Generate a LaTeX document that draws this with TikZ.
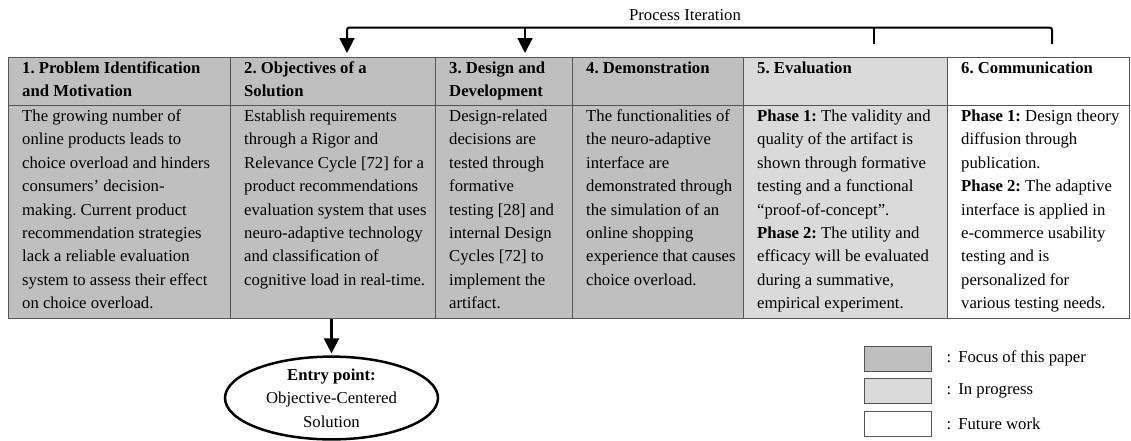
\documentclass[tikz,border=0pt]{standalone}
\usepackage{fontspec}
\setmainfont{Liberation Serif}
\usetikzlibrary{arrows.meta,shapes.geometric}
\frenchspacing

\definecolor{focusgray}{RGB}{191,191,191}
\definecolor{progressgray}{RGB}{218,218,218}
\definecolor{gridline}{RGB}{85,85,85}

\begin{document}
\begin{tikzpicture}[x=1pt,y=-1pt,
  every node/.style={font=\fontsize{16.7}{23.4}\selectfont},
  cell/.style={draw=gridline, line width=1pt, anchor=north west, inner sep=0pt},
  headrow/.style={cell, minimum height=48pt},
  bodyrow/.style={cell, minimum height=213pt},
  celltext/.style={anchor=north west, inner sep=0pt, align=left},
  iter/.style={line width=2pt, black},
  tip/.style={-{Triangle[width=15pt,length=15pt]}},
  legendbox/.style={draw=gridline, line width=1pt, minimum width=67pt, minimum height=25pt, inner sep=0pt},
  legendtext/.style={anchor=west, inner sep=0pt},
]
\useasboundingbox (0,0) rectangle (1131,440);

% ---- table: header row ----
\node[headrow, fill=focusgray,    minimum width=222pt] (h1) at (8,57)   {};
\node[headrow, fill=focusgray,    minimum width=205pt] (h2) at (230,57) {};
\node[headrow, fill=focusgray,    minimum width=137pt] (h3) at (435,57) {};
\node[headrow, fill=focusgray,    minimum width=171pt] (h4) at (572,57) {};
\node[headrow, fill=progressgray, minimum width=204pt] (h5) at (743,57) {};
\node[headrow, fill=white,        minimum width=182pt] (h6) at (947,57) {};

% ---- table: body row ----
\node[bodyrow, fill=focusgray,    minimum width=222pt] (b1) at (8,105)   {};
\node[bodyrow, fill=focusgray,    minimum width=205pt] (b2) at (230,105) {};
\node[bodyrow, fill=focusgray,    minimum width=137pt] (b3) at (435,105) {};
\node[bodyrow, fill=focusgray,    minimum width=171pt] (b4) at (572,105) {};
\node[bodyrow, fill=progressgray, minimum width=204pt] (b5) at (743,105) {};
\node[bodyrow, fill=white,        minimum width=182pt] (b6) at (947,105) {};

% ---- header texts ----
\node[celltext] (h1t) at ([xshift=14pt]h1.north west)
  {\strut\textbf{1. Problem Identification}\\\textbf{and Motivation}};
\node[celltext] (h2t) at ([xshift=14pt]h2.north west)
  {\strut\textbf{2. Objectives of a}\\\textbf{Solution}};
\node[celltext] (h3t) at ([xshift=14pt]h3.north west)
  {\strut\textbf{3. Design and}\\\textbf{Development}};
\node[celltext] (h4t) at ([xshift=14pt]h4.north west)
  {\strut\textbf{4. Demonstration}};
\node[celltext] (h5t) at ([xshift=14pt]h5.north west)
  {\strut\textbf{5. Evaluation}};
\node[celltext] (h6t) at ([xshift=14pt]h6.north west)
  {\strut\textbf{6. Communication}};

% ---- body texts ----
\node[celltext] (b1t) at ([xshift=14pt]b1.north west)
  {\strut The growing number of\\
   online products leads to\\
   choice overload and hinders\\
   consumers’ decision-\\
   making. Current product\\
   recommendation strategies\\
   lack a reliable evaluation\\
   system to assess their effect\\
   on choice overload.};
\node[celltext] (b2t) at ([xshift=14pt]b2.north west)
  {\strut Establish requirements\\
   through a Rigor and\\
   Relevance Cycle [72] for a\\
   product recommendations\\
   evaluation system that uses\\
   neuro-adaptive technology\\
   and classification of\\
   cognitive load in real-time.};
\node[celltext] (b3t) at ([xshift=14pt]b3.north west)
  {\strut Design-related\\
   decisions are\\
   tested through\\
   formative\\
   testing [28] and\\
   internal Design\\
   Cycles [72] to\\
   implement the\\
   artifact.};
\node[celltext] (b4t) at ([xshift=14pt]b4.north west)
  {\strut The functionalities of\\
   the neuro-adaptive\\
   interface are\\
   demonstrated through\\
   the simulation of an\\
   online shopping\\
   experience that causes\\
   choice overload.};
\node[celltext] (b5t) at ([xshift=14pt]b5.north west)
  {\strut\textbf{Phase 1:} The validity and\\
   quality of the artifact is\\
   shown through formative\\
   testing and a functional\\
   “proof-of-concept”.\\
   \textbf{Phase 2:} The utility and\\
   efficacy will be evaluated\\
   during a summative,\\
   empirical experiment.};
\node[celltext] (b6t) at ([xshift=14pt]b6.north west)
  {\strut\textbf{Phase 1:} Design theory\\
   diffusion through\\
   publication.\\
   \textbf{Phase 2:} The adaptive\\
   interface is applied in\\
   e-commerce usability\\
   testing and is\\
   personalized for\\
   various testing needs.};

% ---- process iteration bracket ----
\node (pilabel) at (685,15) {Process Iteration};
\coordinate (i2) at (347,27.7);
\coordinate (i3) at (525,27.7);
\coordinate (i5) at (874,27.7);
\coordinate (i6) at (1052,27.7);
\coordinate (e5) at (874,44);
\coordinate (e6) at (1052,44);
\draw[iter, tip, shorten >=4pt, rounded corners=2pt]
  (e6) -- (i6) -- (i2) -- (i2 |- h2.north);
\draw[iter, tip, shorten >=4pt] (i3) -- (i3 |- h3.north);
\draw[iter] (i5) -- (e5);

% ---- entry point ----
\node[ellipse, draw=black, line width=2.5pt, minimum width=213pt, minimum height=80pt,
      inner sep=0pt, align=center] (entry) at (331.5,398)
  {\textbf{Entry point:}\\Objective-Centered\\Solution};
\draw[iter, line width=2.5pt, tip, shorten >=2pt] (entry.north |- b2.south) -- (entry.north);

% ---- legend ----
\node[legendbox, fill=focusgray]    (l1) at (897.5,358.5) {};
\node[legendbox, fill=progressgray] (l2) at (897.5,390.5) {};
\node[legendbox, fill=white]        (l3) at (897.5,423.5) {};
\node[legendtext] (l1t) at ([xshift=15pt]l1.east) {:\hspace{7pt}Focus of this paper};
\node[legendtext] (l2t) at ([xshift=15pt]l2.east) {:\hspace{7pt}In progress};
\node[legendtext] (l3t) at ([xshift=15pt]l3.east) {:\hspace{7pt}Future work};
\end{tikzpicture}
\end{document}
